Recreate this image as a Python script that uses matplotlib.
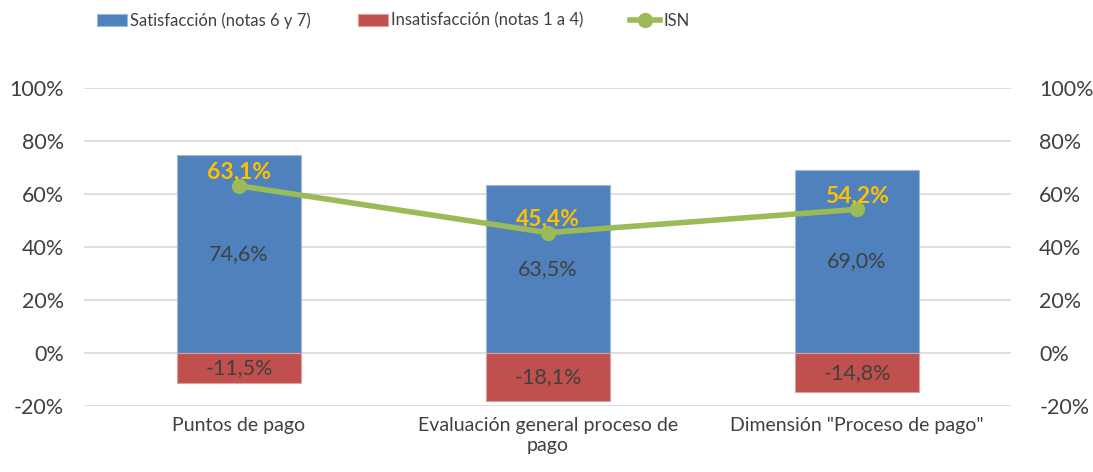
import matplotlib.pyplot as plt
import numpy as np

# datos
categorias = ["Puntos de pago", "Evaluación general proceso de\npago", "Dimensión \"Proceso de pago\""]
satisfaccion = [74.6, 63.5, 69.0]
insatisfaccion = [-11.5, -18.1, -14.8]
isn = [63.1, 45.4, 54.2]

azul = "#4F81BD"
rojo = "#C0504D"
verde = "#9BBB59"
amarillo = "#FFC000"
gris = "#404040"

plt.rcParams['font.family'] = ['Lato', 'DejaVu Sans']

fig = plt.figure(figsize=(10.93, 4.72), dpi=100)
ax = fig.add_axes([0.0773, 0.1398, 0.8481, 0.6738])

x = np.arange(len(categorias))
ax.bar(x, satisfaccion, width=0.4, color=azul, edgecolor="#9DB9DE", linewidth=0.8,
       label="Satisfacción (notas 6 y 7)", zorder=2)
ax.bar(x, insatisfaccion, width=0.4, color=rojo, edgecolor="#E0A09E", linewidth=0.8,
       label="Insatisfacción (notas 1 a 4)", zorder=2)
ax.plot(x, isn, color=verde, linewidth=4, marker="o", markersize=10, label="ISN", zorder=3)

def fmt(v):
    return f"{v:.1f}%".replace(".", ",")

for xi, s, n, v in zip(x, satisfaccion, insatisfaccion, isn):
    ax.text(xi, s / 2, fmt(s), ha="center", va="center", fontsize=15.5, color=gris, zorder=4)
    ax.text(xi, n / 2, fmt(n), ha="center", va="center", fontsize=15.5, color=gris, zorder=4)
    ax.text(xi, v + 1.0, fmt(v), ha="center", va="bottom", fontsize=16.5, color=amarillo,
            fontweight="bold", zorder=4)

ax.set_xlim(-0.5, 2.5)
ax.set_ylim(-20, 100)
ticks = np.arange(-20, 101, 20)
ax.set_yticks(ticks)
ax.set_yticklabels([f"{t}%" for t in ticks])
ax.set_xticks(x)
ax.set_xticklabels(categorias, fontsize=14)
ax.grid(axis="y", color="#D9D9D9", linewidth=1.2, zorder=0)
ax.set_axisbelow(True)
for s in ax.spines.values():
    s.set_visible(False)
ax.tick_params(length=0, colors=gris, pad=8)
ax.tick_params(axis="y", labelsize=15.5, pad=15)

ax2 = ax.twinx()
ax2.set_ylim(-20, 100)
ax2.set_yticks(ticks)
ax2.set_yticklabels([f"{t}%" for t in ticks])
for s in ax2.spines.values():
    s.set_visible(False)
ax2.tick_params(length=0, labelsize=15.5, colors=gris, pad=20)

h, l = ax.get_legend_handles_labels()
orden = [1, 2, 0]
fig.legend([h[i] for i in orden], [l[i] for i in orden], loc="center",
           bbox_to_anchor=(0.36, 0.957), ncol=3, frameon=False, fontsize=12,
           labelcolor=gris, handlelength=1.8, handleheight=0.75,
           handletextpad=0.2, columnspacing=2.8)

fig.savefig("out.png", dpi=100)
